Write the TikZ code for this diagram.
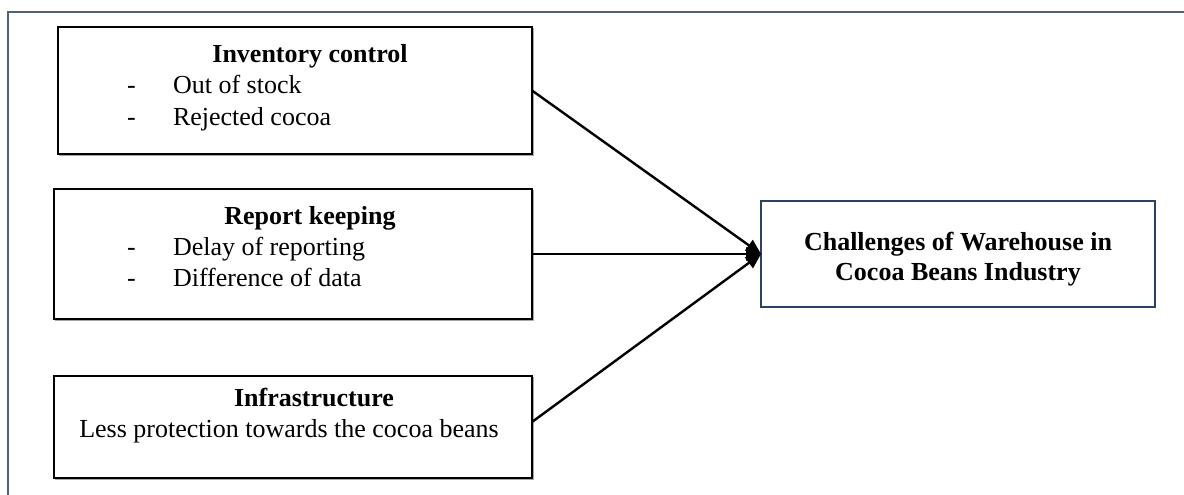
\documentclass[tikz,border=0pt]{standalone}
\usepackage{fontspec}
\setmainfont{Liberation Serif}
\usetikzlibrary{arrows.meta}
\definecolor{framecol}{HTML}{4F6279}
\definecolor{navy}{HTML}{2B4264}
\begin{document}
\begin{tikzpicture}[x=1pt,y=-1pt,
  every node/.style={inner sep=0pt,outer sep=0pt},
  box/.style={draw=black,line width=1.3pt,anchor=north west},
  shadowbox/.style={draw=black!35,line width=1.3pt,anchor=north west},
  txt/.style={font=\fontsize{26}{30}\selectfont,anchor=base west},
  ttl/.style={font=\fontsize{26}{30}\selectfont\bfseries,anchor=base},
  conn/.style={line width=2.4pt,-{Triangle[length=15pt,width=13pt]}},
  frame/.style={draw=framecol,line width=2pt}]
\useasboundingbox (0,0) rectangle (1184,495);
\draw[frame] (8,495) -- (8,12) -- (1184,12);

% shadows
\node[shadowbox,minimum width=474pt,minimum height=127pt] (s1) at (59.5,28.5) {};
\node[shadowbox,minimum width=478pt,minimum height=130pt] (s2) at (55.5,190.5) {};
\node[shadowbox,minimum width=478pt,minimum height=102pt] (s3) at (55.5,377.5) {};

% boxes
\node[box,fill=white,minimum width=474pt,minimum height=127pt] (b1) at (58,27) {};
\node[box,fill=white,minimum width=478pt,minimum height=130pt] (b2) at (54,189) {};
\node[box,fill=white,minimum width=478pt,minimum height=102pt] (b3) at (54,376) {};
\node[box,draw=navy,fill=white,minimum width=394pt,minimum height=106pt] (rb) at (761,201) {};

% box 1 text
\node[ttl] (t1) at (310,63) {Inventory control};
\node[txt] (d11) at (127,94) {-};
\node[txt] (i11) at (173,94) {Out of stock};
\node[txt] (d12) at (127,125) {-};
\node[txt] (i12) at (173,125) {Rejected cocoa};

% box 2 text
\node[ttl] (t2) at (310,224) {Report keeping};
\node[txt] (d21) at (127,255) {-};
\node[txt] (i21) at (173,255) {Delay of reporting};
\node[txt] (d22) at (127,286) {-};
\node[txt] (i22) at (173,286) {Difference of data};

% box 3 text
\node[ttl] (t3) at (314,406) {Infrastructure};
\node[txt,anchor=base] (i31) at (289,437) {Less protection towards the cocoa beans};

% right box text
\node[ttl] (r1) at (958,250) {Challenges of Warehouse in};
\node[ttl] (r2) at (958,280) {Cocoa Beans Industry};

\coordinate (e3) at (532,422);
\draw[conn] (b1.east) -- (rb.west);
\draw[conn] (b2.east) -- (rb.west);
\draw[conn] (e3) -- (rb.west);
\end{tikzpicture}
\end{document}
